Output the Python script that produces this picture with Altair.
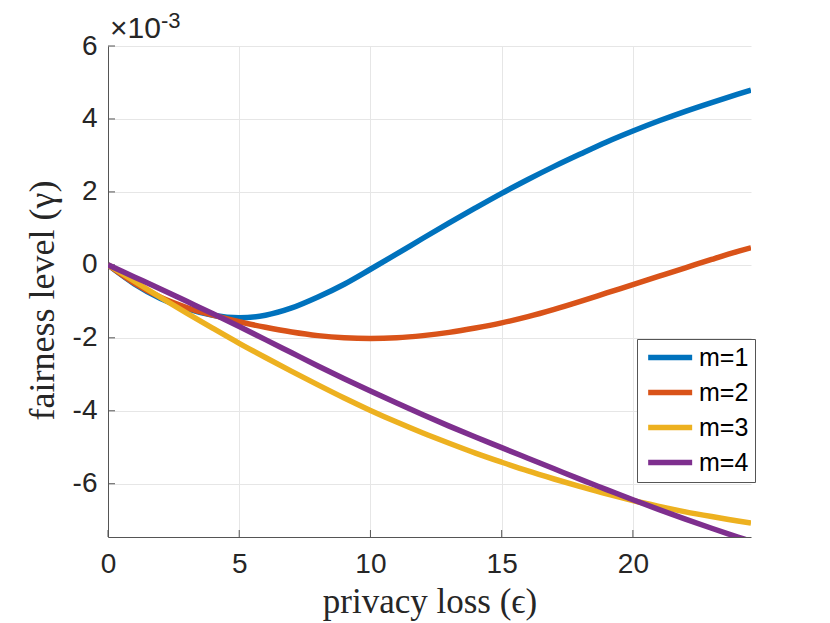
import altair as alt
import pandas as pd

# privacy loss (epsilon) sample points
eps = [0, 1, 2, 3, 4, 5, 6, 7, 8, 9, 10, 11, 12, 13, 14, 15, 16, 17, 18, 19, 20,
       21, 22, 23, 24, 24.5]
# fairness level, in units of 1e-3
m1 = [0, -0.52, -0.92, -1.2, -1.38, -1.45, -1.38, -1.18, -0.88, -0.53, -0.12,
      0.30, 0.73, 1.15, 1.56, 1.96, 2.34, 2.70, 3.04, 3.37, 3.67, 3.95, 4.21,
      4.45, 4.68, 4.79]
m2 = [0, -0.5, -0.89, -1.17, -1.38, -1.56, -1.71, -1.84, -1.94, -2.0, -2.02,
      -2.0, -1.94, -1.85, -1.73, -1.59, -1.42, -1.22, -1.0, -0.77, -0.54,
      -0.31, -0.08, 0.15, 0.37, 0.47]
m3 = [0, -0.45, -0.89, -1.32, -1.74, -2.15, -2.54, -2.92, -3.29, -3.65, -3.99,
      -4.31, -4.61, -4.89, -5.16, -5.41, -5.65, -5.87, -6.08, -6.28, -6.46,
      -6.62, -6.77, -6.90, -7.02, -7.08]
m4 = [0, -0.33, -0.66, -1.0, -1.34, -1.69, -2.05, -2.41, -2.77, -3.12, -3.46,
      -3.79, -4.11, -4.42, -4.72, -5.01, -5.30, -5.59, -5.88, -6.16, -6.44,
      -6.71, -6.97, -7.22, -7.46, -7.58]

series_names = ["m=1", "m=2", "m=3", "m=4"]
series_colors = ["#0072BD", "#D95319", "#EDB120", "#7E2F8E"]
x_ticks = [0, 5, 10, 15, 20]
y_ticks = [-6, -4, -2, 0, 2, 4, 6]
multiplier_base = ["×10"]
multiplier_exp = ["-3"]

rows = []
for name, vals in zip(series_names, [m1, m2, m3, m4]):
    for e, v in zip(eps, vals):
        rows.append({"eps": e, "gamma": v, "series": name})
df = pd.DataFrame(rows)

W, H = 643, 491
AX = "#555555"
TXT = "#262626"

xscale = alt.Scale(domain=[0, 24.5], nice=False, zero=False)
yscale = alt.Scale(domain=[-7.46, 6], nice=False, zero=False)

lines = alt.Chart(df).mark_line(strokeWidth=5.5, interpolate="monotone", clip=True).encode(
    x=alt.X("eps:Q", scale=xscale,
            axis=alt.Axis(values=x_ticks, title="privacy loss (ϵ)", ticks=False,
                          labelFlush=False,
                          labelFont="Liberation Sans", labelFontSize=28,
                          labelColor=TXT, labelPadding=13, domainColor=AX,
                          grid=True, gridColor="#e6e6e6",
                          titleFont="Liberation Serif", titleFontSize=35,
                          titleFontWeight="normal", titleColor=TXT,
                          titleBaseline="alphabetic", titleY=75)),
    y=alt.Y("gamma:Q", scale=yscale,
            axis=alt.Axis(values=y_ticks, title="fairness level (γ)", ticks=False,
                          labelFlush=False,
                          labelExpr="'' + datum.value",
                          labelFont="Liberation Sans", labelFontSize=28,
                          labelColor=TXT, labelPadding=11, domainColor=AX,
                          grid=True, gridColor="#e6e6e6",
                          titleFont="Liberation Serif", titleFontSize=36,
                          titleFontWeight="normal", titleColor=TXT,
                          titleAngle=270, titleAlign="center",
                          titleBaseline="alphabetic", titleX=-55, titleY=254)),
    color=alt.Color("series:N",
                    scale=alt.Scale(domain=series_names, range=series_colors),
                    legend=alt.Legend(orient="none", legendX=529, legendY=293,
                                      title=None, symbolType="M-1,0H5",
                                      symbolStrokeWidth=5.5, symbolSize=215,
                                      labelFont="Liberation Sans", labelFontSize=25,
                                      labelColor="black", labelOffset=31,
                                      fillColor="white", strokeColor=AX,
                                      padding=6, rowPadding=9)),
)

xt = alt.Chart(pd.DataFrame({"t": x_ticks})).mark_rule(color=AX, strokeWidth=1).encode(
    x=alt.X("t:Q", scale=xscale), y=alt.value(H), y2=alt.value(H - 7))
yt = alt.Chart(pd.DataFrame({"t": y_ticks})).mark_rule(color=AX, strokeWidth=1).encode(
    y=alt.Y("t:Q", scale=yscale), x=alt.value(0), x2=alt.value(7))

mult1 = alt.Chart(pd.DataFrame({"t": multiplier_base})).mark_text(
    align="left", baseline="alphabetic", fontSize=30, font="Liberation Sans",
    color=TXT).encode(x=alt.value(2), y=alt.value(-8), text="t:N")
mult2 = alt.Chart(pd.DataFrame({"t": multiplier_exp})).mark_text(
    align="left", baseline="alphabetic", fontSize=22, font="Liberation Sans",
    color=TXT).encode(x=alt.value(53), y=alt.value(-18), text="t:N")

chart = alt.layer(xt, yt, lines, mult1, mult2).properties(
    width=W, height=H,
    autosize=alt.AutoSizeParams(type="none"),
    padding={"left": 100, "top": 38, "right": 70, "bottom": 85},
).configure_view(stroke=None)

chart.save("out.html", embed_options={"renderer": "svg", "actions": False})
